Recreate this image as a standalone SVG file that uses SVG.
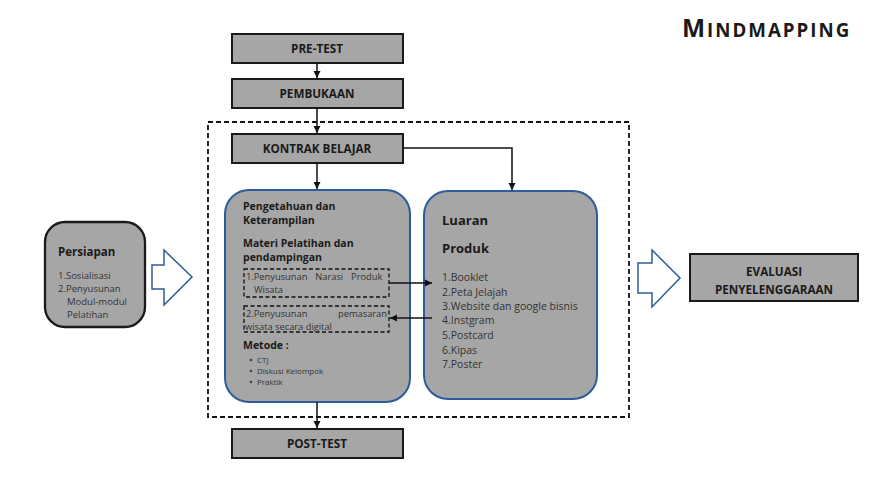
<svg xmlns="http://www.w3.org/2000/svg" width="871" height="491" viewBox="0 0 871 491">
<defs>
<marker id="ah" markerWidth="8" markerHeight="8" refX="7" refY="4" orient="auto" markerUnits="userSpaceOnUse">
<path d="M0,0.5 L7,4 L0,7.5 z" fill="#111"/>
</marker>
<style>
.box{fill:#a6a6a6;stroke:#1a1a1a;stroke-width:2}
.rbox{fill:#a6a6a6;stroke:#2e5c9a;stroke-width:2}
.lbl{font-family:"Open Sans","Liberation Sans",sans-serif;font-weight:bold;font-size:11.7px;fill:#1a1a1a;text-anchor:middle}
.hd{font-family:"Open Sans","Liberation Sans",sans-serif;font-weight:bold;fill:#1a1a1a}
.tx{font-family:"Open Sans","Liberation Sans",sans-serif;fill:#333}
.con{stroke:#111;stroke-width:1.5;fill:none}
.dash{fill:none;stroke:#111;stroke-width:1.8;stroke-dasharray:5,3}
.dash2{fill:none;stroke:#111;stroke-width:1.3;stroke-dasharray:4,2.5}
.barrow{fill:#fff;stroke:#2e5c9a;stroke-width:1.5}
</style>
</defs>
<rect width="871" height="491" fill="#fff"/>
<text x="682" y="36.5" class="hd" font-size="24.5" letter-spacing="2">M<tspan font-size="18.7">INDMAPPING</tspan></text>

<rect id="frame" x="208" y="122" width="421" height="295" class="dash"/>

<g id="pretest"><rect x="232" y="34" width="171" height="29" class="box"/><text x="317" y="53" class="lbl">PRE-TEST</text></g>
<g id="pembukaan"><rect x="232" y="79" width="171" height="29" class="box"/><text x="317" y="98" class="lbl">PEMBUKAAN</text></g>
<g id="kontrak"><rect x="232" y="134" width="171" height="29" class="box"/><text x="317" y="153" class="lbl">KONTRAK BELAJAR</text></g>
<g id="posttest"><rect x="232" y="429" width="171" height="29" class="box"/><text x="317" y="448" class="lbl">POST-TEST</text></g>

<g id="persiapan">
<rect x="45" y="222" width="100" height="105" rx="20" ry="20" fill="#a6a6a6" stroke="#1a1a1a" stroke-width="2.3"/>
<text x="58" y="256" class="hd" font-size="11.5">Persiapan</text>
<text class="tx" font-size="9.5"><tspan x="58" y="279">1.Sosialisasi</tspan><tspan x="58" y="292">2.Penyusunan</tspan><tspan x="67" y="305">Modul-modul</tspan><tspan x="67" y="318">Pelatihan</tspan></text>
</g>

<g id="arrow-left"><path d="M152,265 L164,265 L164,250 L192,277 L164,305 L164,289 L152,289 z" class="barrow"/></g>
<g id="arrow-right"><path d="M638,263 L652,263 L652,250 L680,278 L652,307 L652,293 L638,293 z" class="barrow"/></g>

<g id="evaluasi"><rect x="690" y="254" width="168" height="47" class="box"/><text x="774" y="276" class="lbl">EVALUASI</text><text x="774" y="294" class="lbl">PENYELENGGARAAN</text></g>

<g id="pengetahuan">
<rect x="225" y="190" width="185" height="212" rx="24" ry="24" class="rbox"/>
<text class="hd" font-size="10.5"><tspan x="243" y="210">Pengetahuan dan</tspan><tspan x="243" y="224">Keterampilan</tspan><tspan x="243" y="247">Materi Pelatihan dan</tspan><tspan x="243" y="261">pendampingan</tspan></text>
<rect x="244" y="269" width="145" height="28" class="dash2"/>
<text class="tx" font-size="9.3" fill="#444"><tspan x="246" y="280" word-spacing="5.5">1.Penyusunan Narasi Produk</tspan><tspan x="254" y="293">Wisata</tspan></text>
<rect x="244" y="306" width="145" height="26" class="dash2"/>
<text class="tx" font-size="9.3" fill="#444"><tspan x="246" y="317">2.Penyusunan</tspan><tspan x="387" y="317" text-anchor="end">pemasaran</tspan><tspan x="245" y="330">wisata secara  digital</tspan></text>
<text x="243" y="349" class="hd" font-size="10.5">Metode :</text>
<g class="tx" font-size="8" fill="#444"><circle cx="251" cy="360" r="1.3" fill="#444"/><text x="257" y="363">CTJ</text><circle cx="251" cy="371" r="1.3" fill="#444"/><text x="257" y="374">Diskusi Kelompok</text><circle cx="251" cy="382" r="1.3" fill="#444"/><text x="257" y="385">Praktik</text></g>
</g>

<g id="luaran">
<rect x="424" y="191" width="173" height="208" rx="24" ry="24" class="rbox"/>
<text class="hd" font-size="13"><tspan x="442" y="225">Luaran</tspan><tspan x="442" y="253">Produk</tspan></text>
<text class="tx" font-size="10.5"><tspan x="442" y="281">1.Booklet</tspan><tspan x="442" y="296">2.Peta Jelajah</tspan><tspan x="442" y="310">3.Website dan google bisnis</tspan><tspan x="442" y="324">4.Instgram</tspan><tspan x="442" y="339">5.Postcard</tspan><tspan x="442" y="354">6.Kipas</tspan><tspan x="442" y="368">7.Poster</tspan></text>
</g>

<g id="connectors">
<line x1="317" y1="63" x2="317" y2="78" class="con" marker-end="url(#ah)"/>
<line x1="317" y1="108" x2="317" y2="133" class="con" marker-end="url(#ah)"/>
<line x1="317" y1="163" x2="317" y2="189" class="con" marker-end="url(#ah)"/>
<polyline points="403,148 512,148 512,190" class="con" marker-end="url(#ah)"/>
<line x1="389" y1="283" x2="432" y2="283" class="con" marker-end="url(#ah)"/>
<line x1="432" y1="318" x2="390" y2="318" class="con" marker-end="url(#ah)"/>
<line x1="317" y1="402" x2="317" y2="428" class="con" marker-end="url(#ah)"/>
</g>
</svg>
